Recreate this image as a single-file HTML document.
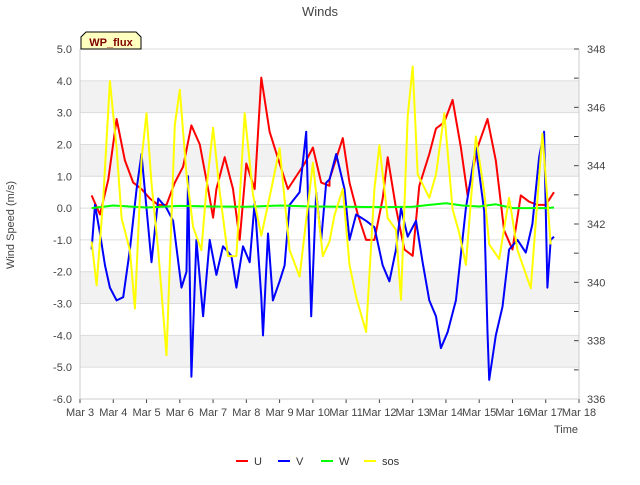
<!DOCTYPE html>
<html><head><meta charset="utf-8"><style>
body{margin:0;background:#fff;font-family:"Liberation Sans",sans-serif}
</style></head><body>
<svg id="c" width="640" height="480" xmlns="http://www.w3.org/2000/svg" font-family="Liberation Sans, sans-serif">
<rect width="640" height="480" fill="#fff"/>
<g id="bands"></g><g id="grid"></g>
<text x="320" y="16" text-anchor="middle" font-size="13" fill="#444">Winds</text>
<text x="14" y="225" text-anchor="middle" font-size="11" fill="#444" transform="rotate(-90 14 225)">Wind Speed (m/s)</text>
<text x="578" y="433" text-anchor="end" font-size="11" fill="#444">Time</text>
<g id="axes"></g>
<g id="series"></g>
<g>
<path d="M81,49 L81,37 L86,32 L136,32 L141,37 L141,49 Z" fill="#ffffc0" stroke="#000" stroke-width="1"/>
<text x="111" y="46" text-anchor="middle" font-size="11" font-weight="bold" fill="#800000">WP_flux</text></g>
<g id="legend"></g>
</svg>
<script>
const dayTicks=["Mar 3","Mar 4","Mar 5","Mar 6","Mar 7","Mar 8","Mar 9","Mar 10","Mar 11","Mar 12","Mar 13","Mar 14","Mar 15","Mar 16","Mar 17","Mar 18"];
const leftTicks=[5,4,3,2,1,0,-1,-2,-3,-4,-5,-6];
const rightTicks=[336,338,340,342,344,346,348];
const uT=[3.35,3.6,3.85,4.1,4.35,4.6,4.85,5.1,5.35,5.6,5.85,6.1,6.35,6.6,6.85,7.0,7.1,7.35,7.6,7.8,8.0,8.25,8.45,8.7,9.0,9.25,9.75,10.0,10.25,10.5,10.5,10.9,11.1,11.35,11.6,11.85,12.1,12.25,12.5,12.75,13.0,13.2,13.5,13.7,13.95,14.2,14.45,14.65,14.95,15.25,15.5,15.75,16.0,16.25,16.5,16.75,17.0,17.25];
const uV=[0.4,-0.2,0.9,2.8,1.5,0.8,0.6,0.3,0.1,0.1,0.8,1.3,2.6,2.0,0.6,-0.3,0.6,1.6,0.6,-1.0,1.4,0.6,4.1,2.4,1.4,0.6,1.4,1.9,0.8,0.7,0.9,2.2,0.8,-0.2,-1.0,-1.0,0.3,1.6,0,-1.3,-1.5,0.7,1.7,2.5,2.7,3.4,1.9,0.4,1.9,2.8,1.5,-0.7,-1.3,0.4,0.2,0.1,0.1,0.5];
const vT=[3.35,3.45,3.6,3.75,3.9,4.1,4.3,4.5,4.7,4.85,5.0,5.15,5.35,5.6,5.8,6.05,6.2,6.25,6.35,6.5,6.7,6.9,7.1,7.3,7.55,7.7,7.9,8.1,8.25,8.45,8.5,8.65,8.8,9.0,9.15,9.3,9.6,9.8,9.95,10.1,10.25,10.4,10.5,10.7,10.95,11.1,11.3,11.6,11.85,12.1,12.3,12.5,12.65,12.85,13.1,13.3,13.5,13.7,13.85,14.05,14.3,14.6,14.9,15.15,15.25,15.3,15.5,15.7,15.9,16.15,16.4,16.6,16.8,16.95,17.05,17.15,17.25];
const vV=[-1.3,0.1,-0.8,-1.8,-2.5,-2.9,-2.8,-1.3,0.6,1.7,0,-1.7,0.3,0,-0.4,-2.5,-2.0,1.0,-5.3,-1.0,-3.4,-1.0,-2.1,-1.2,-1.5,-2.5,-1.2,-1.7,0.2,-2.8,-4.0,-0.8,-2.9,-2.3,-1.8,0.1,0.5,2.4,-3.4,0.5,-1.0,0.8,0.9,1.7,0.6,-1.0,-0.2,-0.4,-0.6,-1.8,-2.3,-1.3,0,-0.9,-0.4,-1.7,-2.9,-3.4,-4.4,-3.9,-2.9,0,1.9,-0.1,-3.9,-5.4,-4.0,-3.1,-1.3,-1.0,-1.4,-0.5,1.6,2.4,-2.5,-1.0,-0.9];
const wT=[3.35,4.0,5.0,6.0,7.0,8.0,9.0,10.0,11.0,12.0,13.0,13.5,14.0,14.5,15.0,15.5,16.0,17.0,17.25];
const wV=[0.0,0.08,0.02,0.07,0.05,0.04,0.08,0.05,0.04,0.03,0.04,0.1,0.15,0.08,0.05,0.12,0.0,0.0,0.02];
const sT=[3.35,3.5,3.7,3.9,4.1,4.25,4.5,4.65,4.85,5.0,5.15,5.35,5.6,5.85,6.0,6.2,6.4,6.65,6.8,7.0,7.2,7.45,7.7,7.95,8.2,8.45,8.75,9.0,9.3,9.6,10.0,10.3,10.5,10.65,10.9,11.1,11.3,11.6,11.85,12.0,12.25,12.5,12.65,12.85,13.0,13.15,13.5,13.7,13.95,14.2,14.4,14.6,14.9,15.15,15.3,15.6,15.9,16.15,16.55,16.9,17.15];
const sV=[341.4,339.9,342.9,346.9,344.6,342.2,341.1,339.1,344.2,345.8,343.4,341.1,337.5,345.4,346.6,343.7,341.9,341.1,343.2,345.3,343.1,340.9,340.9,345.8,343.0,341.6,343.2,344.6,341.1,340.2,344.1,340.9,341.4,342.3,343.2,340.6,339.5,338.3,343.2,344.7,342.2,341.8,339.4,345.7,347.4,343.7,342.9,343.7,345.8,342.5,341.7,340.6,345.0,343.1,341.3,340.8,342.9,341.1,339.8,345.1,341.3];
const L=80,R=579,T=49,B=399;
const xs=d=>L+(d-3)*(R-L)/15;
const yl=v=>T+(5-v)*(B-T)/11;
const yr=v=>T+(348-v)*(B-T)/12;
const NS="http://www.w3.org/2000/svg";
function mk(tag,attrs,parent){const e=document.createElementNS(NS,tag);for(const k in attrs)e.setAttribute(k,attrs[k]);parent.appendChild(e);return e;}
const bands=document.getElementById('bands'),grid=document.getElementById('grid'),axes=document.getElementById('axes'),series=document.getElementById('series'),legend=document.getElementById('legend');
[[4,3],[2,1],[-2,-3],[-4,-5]].forEach(b=>{const r=mk('rect',{x:L,y:yl(b[0]),width:R-L,height:yl(b[1])-yl(b[0]),fill:'#f2f2f2'},bands);

});
leftTicks.forEach(v=>{const y=yl(v);
const g=mk('line',{x1:L,x2:R,y1:y,y2:y,stroke:'#dcdcdc','stroke-width':1},grid);


const t=mk('text',{x:L-8,y:y+4,'text-anchor':'end','font-size':11,fill:'#444'},axes);t.textContent=v.toFixed(1);

});
dayTicks.forEach((s,i)=>{const x=xs(3+i);
mk('line',{x1:x,x2:x,y1:B,y2:B+4,stroke:'#444'},axes);
const t=mk('text',{x:x,y:B+17,'text-anchor':'middle','font-size':11,fill:'#444'},axes);t.textContent=s;

});
for(let v=336;v<=348;v++){const y=yr(v);mk('line',{x1:R,x2:R-5,y1:y,y2:y,stroke:'#444'},axes);}
rightTicks.forEach(v=>{const t=mk('text',{x:R+8,y:yr(v)+4,'font-size':11,fill:'#444'},axes);t.textContent=v;

});
mk('line',{x1:L,x2:L,y1:T,y2:B,stroke:'#ccc'},axes);
mk('line',{x1:R,x2:R,y1:T,y2:B,stroke:'#ccc'},axes);
mk('line',{x1:L,x2:R,y1:B,y2:B,stroke:'#ccc'},axes);
function line(ts,vs,yf,col,name){const p=mk('polyline',{points:ts.map((t,i)=>xs(t).toFixed(1)+','+yf(vs[i]).toFixed(1)).join(' '),fill:'none',stroke:col,'stroke-width':2,'stroke-linejoin':'round'},series);

}
line(uT,uV,yl,'#ff0000','u-line');
line(vT,vV,yl,'#0000ff','v-line');
line(wT,wV,yl,'#00ff00','w-line');
line(sT,sV,yr,'#ffff00','sos-line');
[['U','#ff0000',236],['V','#0000ff',278],['W','#00ff00',321],['sos','#ffff00',364]].forEach(e=>{
const g=mk('g',{},legend);


mk('line',{x1:e[2],x2:e[2]+12,y1:461,y2:461,stroke:e[1],'stroke-width':2},g);
const t=mk('text',{x:e[2]+18,y:465,'font-size':11,fill:'#333'},g);t.textContent=e[0];});
</script>
</body></html>
